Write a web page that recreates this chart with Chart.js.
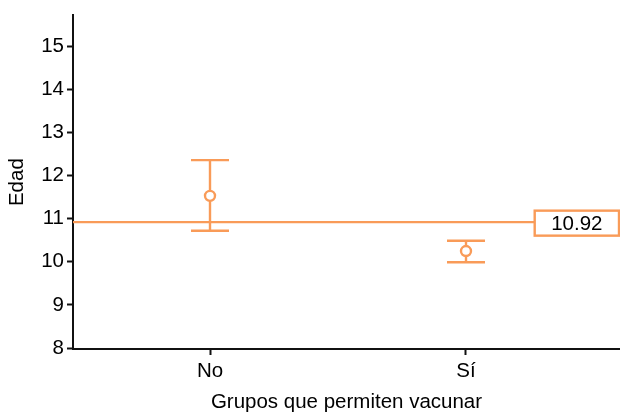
<!DOCTYPE html>
<html>
<head>
<meta charset="utf-8">
<script src="https://cdn.jsdelivr.net/npm/chart.js@4.4.1/dist/chart.umd.min.js"></script>
<style>
  html, body { margin: 0; padding: 0; background: #fff; }
  #wrap { width: 620px; height: 415px; }
</style>
</head>
<body>
<div id="wrap"><canvas id="c" width="620" height="415"></canvas></div>
<script>
// Groups and their mean age with interval bounds
const groups = ['No', 'Sí'];
const groupPos = [1, 2];
const means = [11.53, 10.25];
const lower = [10.72, 9.99];
const upper = [12.36, 10.49];
const overallMean = 10.92;
const yTicks = [8, 9, 10, 11, 12, 13, 14, 15];

const ORANGE = '#F99B58';
const LINE_W = 2.4;
const FONT = { family: '"Liberation Sans", Arial, Helvetica, sans-serif', size: 20.5 };

// Draws the vertical intervals with their caps
const intervalPlugin = {
  id: 'intervals',
  beforeDatasetsDraw(chart) {
    const { ctx, scales: { x, y } } = chart;
    const half = 19;
    ctx.save();
    ctx.strokeStyle = ORANGE;
    ctx.lineWidth = LINE_W;
    groupPos.forEach((g, i) => {
      const px = Math.round(x.getPixelForValue(g));
      const yl = y.getPixelForValue(lower[i]);
      const yu = y.getPixelForValue(upper[i]);
      ctx.beginPath();
      ctx.moveTo(px, yl); ctx.lineTo(px, yu);
      ctx.moveTo(px - half, yu); ctx.lineTo(px + half, yu);
      ctx.moveTo(px - half, yl); ctx.lineTo(px + half, yl);
      ctx.stroke();
    });
    ctx.restore();
  }
};

// Horizontal reference line with its value box at the right end
const refLinePlugin = {
  id: 'refLine',
  beforeDatasetsDraw(chart) {
    const { ctx, chartArea, scales: { y } } = chart;
    const py = y.getPixelForValue(overallMean);
    const text = overallMean.toFixed(2);
    ctx.save();
    ctx.font = `${FONT.size}px ${FONT.family}`;
    const tw = ctx.measureText(text).width;
    const boxW = tw + 33;
    const boxH = 25;
    const boxR = chartArea.right - 1;
    const boxL = boxR - boxW;
    ctx.strokeStyle = ORANGE;
    ctx.lineWidth = LINE_W;
    ctx.beginPath();
    ctx.moveTo(chartArea.left, py);
    ctx.lineTo(boxL, py);
    ctx.stroke();
    ctx.fillStyle = '#fff';
    ctx.fillRect(boxL, py - boxH / 2 + 1, boxW, boxH);
    ctx.strokeRect(boxL, py - boxH / 2 + 1, boxW, boxH);
    ctx.fillStyle = '#000';
    ctx.textAlign = 'center';
    ctx.textBaseline = 'middle';
    ctx.fillText(text, (boxL + boxR) / 2, py + 2);
    ctx.restore();
  }
};

new Chart(document.getElementById('c'), {
  type: 'scatter',
  data: {
    datasets: [{
      data: groupPos.map((g, i) => ({ x: g, y: means[i] })),
      pointRadius: 5,
      pointHoverRadius: 5,
      pointBorderWidth: LINE_W,
      borderColor: ORANGE,
      backgroundColor: '#fff',
      pointBackgroundColor: '#fff',
      showLine: false
    }]
  },
  options: {
    responsive: false,
    animation: false,
    events: [],
    layout: { autoPadding: false, padding: { top: 15, right: 0, bottom: 0, left: 0 } },
    plugins: { legend: { display: false }, tooltip: { enabled: false } },
    scales: {
      x: {
        type: 'linear',
        min: 0.4648,
        max: 2.6016,
        afterBuildTicks(s) { s.ticks = groupPos.map(v => ({ value: v })); },
        afterFit(s) { s.height = 66; },
        ticks: {
          color: '#000',
          font: FONT,
          padding: 4,
          callback(v) { const i = groupPos.indexOf(v); return i >= 0 ? groups[i] : ''; }
        },
        grid: { drawOnChartArea: false, drawTicks: true, tickLength: 6, tickColor: '#111', tickWidth: 2 },
        border: { display: true, color: '#111', width: 2 },
        title: { display: true, text: 'Grupos que permiten vacunar', color: '#000', font: FONT, padding: { top: 0, bottom: 0 } }
      },
      y: {
        type: 'linear',
        min: 7.977,
        max: 15.719,
        afterBuildTicks(s) { s.ticks = yTicks.map(v => ({ value: v })); },
        afterFit(s) { s.width = 73; },
        ticks: { color: '#000', font: FONT, padding: 3 },
        grid: { drawOnChartArea: false, drawTicks: true, tickLength: 6, tickColor: '#111', tickWidth: 2 },
        border: { display: true, color: '#111', width: 2 },
        title: { display: true, text: 'Edad', color: '#000', font: FONT, padding: { top: 5, bottom: 0 } }
      }
    }
  },
  plugins: [intervalPlugin, refLinePlugin]
});
</script>
</body>
</html>
